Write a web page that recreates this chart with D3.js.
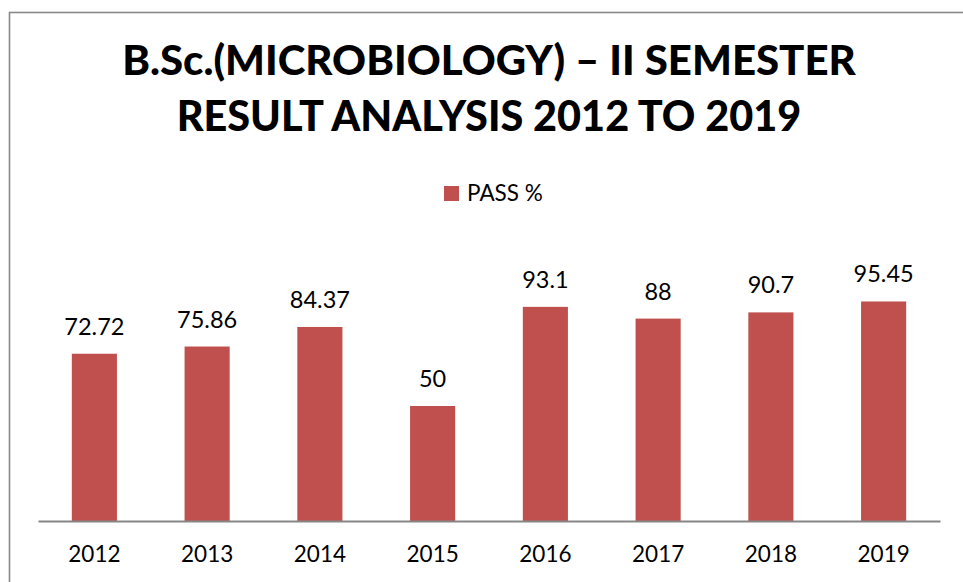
<!DOCTYPE html>
<html>
<head>
<meta charset="utf-8">
<script src="https://cdn.jsdelivr.net/npm/d3@7"></script>
<style>
  html, body { margin: 0; padding: 0; background: #fff; }
  svg { display: block; font-family: Lato, "Open Sans", sans-serif; }
</style>
</head>
<body>
<div id="chart"></div>
<script>
// data
var years = ["2012", "2013", "2014", "2015", "2016", "2017", "2018", "2019"];
var passPct = [72.72, 75.86, 84.37, 50, 93.1, 88, 90.7, 95.45];
var valueLabels = ["72.72", "75.86", "84.37", "50", "93.1", "88", "90.7", "95.45"];
var titleLines = ["B.Sc.(MICROBIOLOGY) \u2013 II SEMESTER", "RESULT ANALYSIS 2012 TO 2019"];
var seriesName = "PASS %";

var
	width = 963,
	height = 582,
	barColor = "#C0504D",
	plot = {left: 38, right: 940, top: 291, bottom: 521},

	svg = d3.select("#chart")
		.append("svg")
		.attr("width", width)
		.attr("height", height),

	x = d3.scaleBand()
		.domain(years)
		.range([plot.left, plot.right])
		.paddingInner(0.6)
		.paddingOuter(0.3),

	y = d3.scaleLinear()
		.domain([0, 100])
		.range([plot.bottom, plot.top])

// chart frame (right/bottom edges run off the page)
svg.append("rect")
	.attr("x", 9.5)
	.attr("y", 12.5)
	.attr("width", 1000)
	.attr("height", 1000)
	.attr("fill", "none")
	.attr("stroke", "#898989")
	.attr("stroke-width", 1.6)

// title
var titleTargets = [734, 625]
svg.append("g")
	.selectAll("text")
	.data(titleLines)
	.join("text")
	.attr("x", 489)
	.attr("y", (d, i) => 75 + i * 56)
	.attr("text-anchor", "middle")
	.attr("font-weight", 900)
	.attr("font-size", 40)
	.attr("fill", "#000")
	.text(d => d)
	.each(function(d, i){
		var w = this.getComputedTextLength()
		d3.select(this).attr("font-size", 40 * titleTargets[i] / w)
	})

// legend
var legend = svg.append("g").attr("transform", "translate(444,186)")
legend.append("rect")
	.attr("width", 15)
	.attr("height", 15)
	.attr("fill", barColor)
legend.append("text")
	.attr("x", 23)
	.attr("y", 14.5)
	.attr("font-size", 22.5)
	.attr("fill", "#000")
	.text(seriesName)

// bars
svg.append("g")
	.selectAll("rect")
	.data(passPct)
	.join("rect")
	.attr("x", (d, i) => x(years[i]))
	.attr("y", d => y(d))
	.attr("width", x.bandwidth())
	.attr("height", d => y(0) - y(d))
	.attr("fill", barColor)

// value labels
svg.append("g")
	.selectAll("text")
	.data(passPct)
	.join("text")
	.attr("x", (d, i) => x(years[i]) + x.bandwidth() / 2)
	.attr("y", d => y(d) - 19)
	.attr("text-anchor", "middle")
	.attr("font-size", 23.5)
	.attr("fill", "#000")
	.text((d, i) => valueLabels[i])

// x axis
var xAxis = svg.append("g")
	.attr("transform", "translate(0," + plot.bottom + ")")
	.call(d3.axisBottom(x).tickSize(0).tickPadding(0))
xAxis.select(".domain")
	.attr("stroke", "#868686")
	.attr("stroke-width", 2)
xAxis.selectAll("text")
	.attr("y", 41)
	.attr("dy", 0)
	.attr("font-size", 22.5)
	.attr("font-family", "Lato, 'Open Sans', sans-serif")
	.attr("fill", "#000")
</script>
</body>
</html>
